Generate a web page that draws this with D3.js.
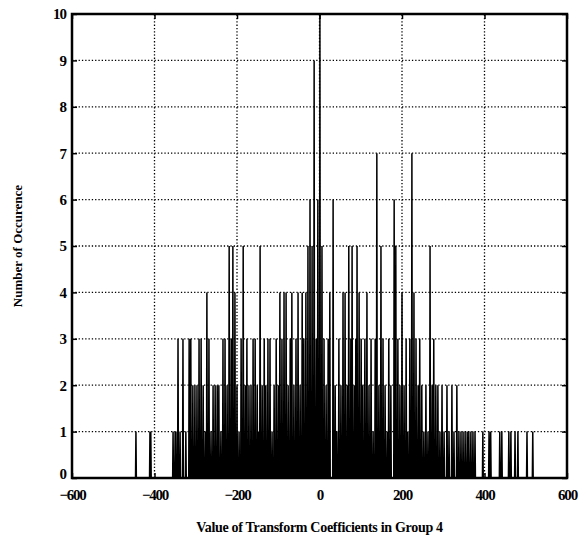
<!DOCTYPE html>
<html><head><meta charset="utf-8">
<script src="https://cdn.jsdelivr.net/npm/d3@7"></script>
<style>body{margin:0;background:#fff}svg{display:block}text{font-family:"Liberation Serif","Times New Roman",serif;font-weight:bold;fill:#000}</style>
</head><body>
<script>
// Histogram bins (coefficient value -> number of occurrences); bins not listed are 0
const coefValues = [-445,-411,-409,-355,-350,-348,-343,-338,-331,-324,-316,-312,-307,-302,-297,-292,-287,-282,-277,-273,-268,-263,-258,-253,-248,-244,-239,-234,-229,-224,-219,-214,-210,-205,-200,-195,-190,-185,-180,-176,-171,-166,-161,-156,-151,-147,-144,-139,-134,-130,-125,-120,-115,-110,-105,-100,-96,-91,-86,-81,-76,-71,-67,-62,-57,-52,-47,-42,-38,-33,-28,-23,-18,-13,-8,-4,1,6,11,16,21,25,33,38,42,47,52,57,62,67,71,76,79,84,88,91,96,101,105,110,115,120,125,130,135,139,144,149,154,159,164,168,173,181,185,190,195,200,205,210,214,219,224,229,234,239,243,248,253,258,263,268,273,277,282,287,292,297,302,309,314,321,326,333,338,343,348,353,358,362,367,372,377,396,411,415,437,442,459,464,474,481,503,517];
const occurrences = [1,1,1,1,1,1,3,1,3,1,3,3,2,2,2,3,3,2,1,4,3,1,2,2,2,2,1,3,3,2,5,3,5,4,2,1,3,5,2,3,2,2,3,3,2,1,5,2,3,2,3,3,1,2,3,2,4,3,4,4,2,3,4,2,3,4,2,4,3,4,5,6,5,9,3,6,10,5,3,2,3,4,6,2,1,3,2,4,4,2,5,3,5,2,3,5,4,3,2,3,4,2,3,1,3,7,2,5,3,2,1,3,2,6,5,3,2,4,2,3,1,3,7,4,3,2,3,2,1,2,1,5,2,3,2,2,1,2,1,2,1,2,1,2,1,1,1,1,1,1,1,1,1,1,1,1,1,1,1,1,1,1,1,1,1,1];
const xTicks = [-600,-400,-200,0,200,400,600];
const yTicks = [0,1,2,3,4,5,6,7,8,9,10];
const xTitle = "Value of Transform Coefficients in Group 4";
const yTitle = "Number of Occurence";

const W = 588, H = 550;
const m = {l:72, r:21, t:14, b:72};
const svg = d3.select("body").append("svg").attr("width", W).attr("height", H);
const x = d3.scaleLinear().domain([-600,600]).range([m.l, W - m.r]);
const y = d3.scaleLinear().domain([0,10]).range([H - m.b, m.t]);

// grid
const g = svg.append("g");
g.selectAll(".gx").data(xTicks.slice(1,-1)).join("line")
  .attr("x1", d=>x(d)).attr("x2", d=>x(d)).attr("y1", y(0)).attr("y2", y(10))
  .attr("stroke", "#000").attr("stroke-width", 1.3).attr("stroke-dasharray", "1.3,2");
g.selectAll(".gy").data(yTicks.slice(1,-1)).join("line")
  .attr("x1", x(-600)).attr("x2", x(600)).attr("y1", d=>y(d)).attr("y2", d=>y(d))
  .attr("stroke", "#000").attr("stroke-width", 1.3).attr("stroke-dasharray", "1.3,2");

// histogram as a line over integer bins
const counts = new Map(coefValues.map((v,i)=>[v, occurrences[i]]));
const bins = d3.range(-600, 601).map(v => ({v, c: counts.get(v) || 0}));
const line = d3.line().x(d=>x(d.v)).y(d=>y(d.c));
svg.append("path").datum(bins).attr("d", line)
  .attr("fill", "none").attr("stroke", "#000").attr("stroke-width", 1.5).attr("stroke-linejoin","miter");

// axes
const xAxis = d3.axisBottom(x).tickValues(xTicks).tickSize(-5).tickPadding(11);
const yAxis = d3.axisLeft(y).tickValues(yTicks).tickSize(-5).tickPadding(6);
const gx = svg.append("g").attr("transform", `translate(0,${y(0)})`).call(xAxis);
const gy = svg.append("g").attr("transform", `translate(${x(-600)},0)`).call(yAxis);
[gx, gy].forEach(a => {
  a.select(".domain").remove();
  a.selectAll(".tick line").attr("stroke", "#000").attr("stroke-width", 1.5);
  a.selectAll("text").style("font-size", "15px").attr("font-weight", "bold");
});
gx.selectAll("text").attr("letter-spacing", "-1.2px");
gy.selectAll("text").attr("letter-spacing", "-1px");
gy.selectAll(".tick").filter(d => d === 0).select("text").attr("dy", "0.05em");
// top ticks
svg.append("g").attr("transform", `translate(0,${y(10)})`).call(d3.axisTop(x).tickValues(xTicks).tickSize(-5).tickFormat(""))
  .call(a=>{a.select(".domain").remove(); a.selectAll("line").attr("stroke","#000").attr("stroke-width",1.5);});
svg.append("g").attr("transform", `translate(${x(600)},0)`).call(d3.axisRight(y).tickValues(yTicks).tickSize(-5).tickFormat(""))
  .call(a=>{a.select(".domain").remove(); a.selectAll("line").attr("stroke","#000").attr("stroke-width",1.5);});

// frame
svg.append("rect").attr("x", x(-600)).attr("y", y(10)).attr("width", x(600)-x(-600)).attr("height", y(0)-y(10))
  .attr("fill", "none").attr("stroke", "#000").attr("stroke-width", 2.5);

// titles
svg.append("text").attr("x", (x(-600)+x(600))/2).attr("y", 532).attr("text-anchor", "middle")
  .style("font-size", "14px").attr("letter-spacing", "-0.3px").text(xTitle);
svg.append("text").attr("transform", `translate(22,${(y(0)+y(10))/2}) rotate(-90)`).attr("text-anchor", "middle")
  .style("font-size", "13px").text(yTitle);
</script>
</body></html>
